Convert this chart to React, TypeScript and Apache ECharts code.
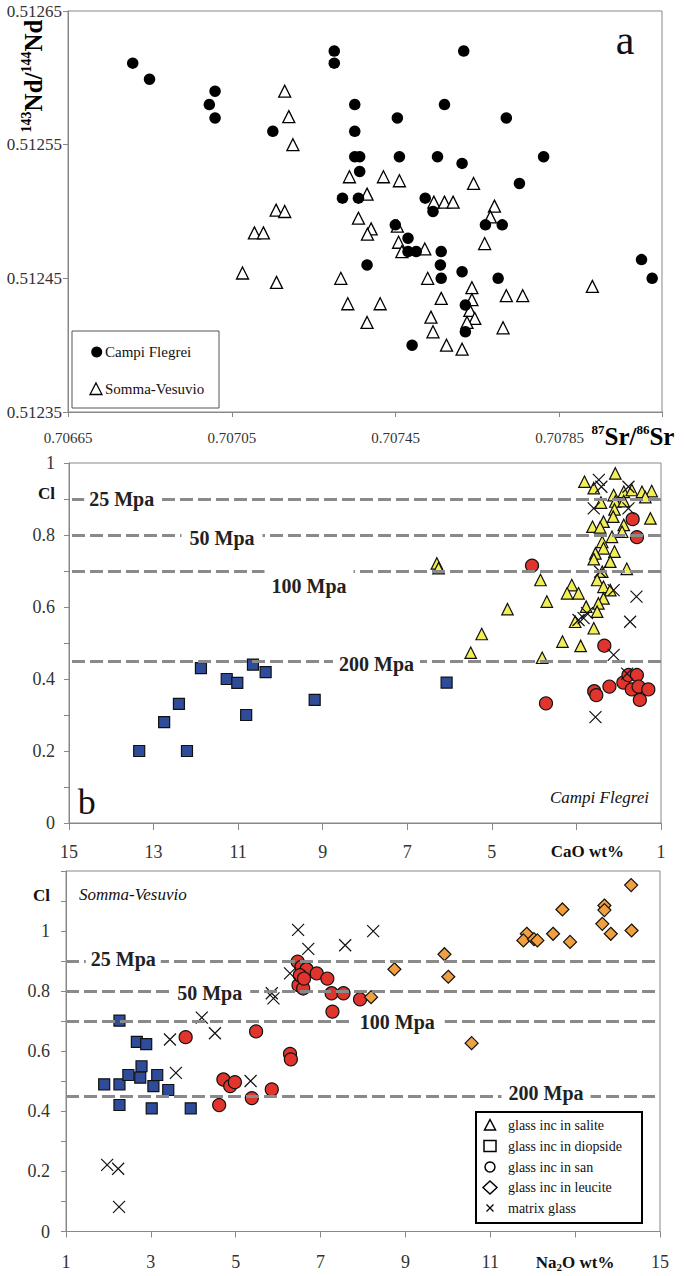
import React, { useEffect, useRef } from "react";
import * as echarts from "echarts";

const FONT = '"Liberation Serif", "Times New Roman", serif';

// ---------- Panel a : 87Sr/86Sr vs 143Nd/144Nd ----------
const srTickLabels = [0.70665, 0.70705, 0.70745, 0.70785];
const ndTickLabels = [0.51235, 0.51245, 0.51255, 0.51265];

const cfSr = [0.706808, 0.706849, 0.707009, 0.706995, 0.707009, 0.70715, 0.7073, 0.7073, 0.707616, 0.70735, 0.707569, 0.707454, 0.70772, 0.70735, 0.70735, 0.707362, 0.707459, 0.707552, 0.707612, 0.707811, 0.707752, 0.707362, 0.70732, 0.707359, 0.707522, 0.707541, 0.707449, 0.707669, 0.70771, 0.70748, 0.70748, 0.7075, 0.707561, 0.70738, 0.707559, 0.707561, 0.707612, 0.7077, 0.70762, 0.70762, 0.70749, 0.70805, 0.708076];
const cfNd = [0.512611, 0.512599, 0.51259, 0.51258, 0.51257, 0.51256, 0.51262, 0.512611, 0.51262, 0.51258, 0.51258, 0.51257, 0.51257, 0.51256, 0.512541, 0.512541, 0.512541, 0.512541, 0.512536, 0.512541, 0.512521, 0.51253, 0.51251, 0.51251, 0.51251, 0.5125, 0.51249, 0.51249, 0.51249, 0.51248, 0.51247, 0.51247, 0.51247, 0.51246, 0.51246, 0.51245, 0.512455, 0.51245, 0.51243, 0.51241, 0.5124, 0.512464, 0.51245];

const svSr = [0.707179, 0.707189, 0.707199, 0.707337, 0.70742, 0.707459, 0.70764, 0.70738, 0.707543, 0.707569, 0.70759, 0.707691, 0.707681, 0.707359, 0.70739, 0.707381, 0.707454, 0.707457, 0.707465, 0.707521, 0.707667, 0.707158, 0.707179, 0.707105, 0.707127, 0.707076, 0.707159, 0.707316, 0.707333, 0.707528, 0.707412, 0.70738, 0.707561, 0.707636, 0.707636, 0.707631, 0.707643, 0.707624, 0.707536, 0.707541, 0.707574, 0.707612, 0.707712, 0.70772, 0.70776, 0.70793];
const svNd = [0.51259, 0.512571, 0.51255, 0.512526, 0.512526, 0.512523, 0.512521, 0.512513, 0.512507, 0.512507, 0.512507, 0.512504, 0.512496, 0.512495, 0.512487, 0.512483, 0.512489, 0.512477, 0.51247, 0.512472, 0.512476, 0.512501, 0.5125, 0.512484, 0.512484, 0.512454, 0.512447, 0.51245, 0.512431, 0.51245, 0.512431, 0.512417, 0.512435, 0.512443, 0.512434, 0.512426, 0.51242, 0.512417, 0.512421, 0.51241, 0.5124, 0.512397, 0.512413, 0.512437, 0.512437, 0.512444];

// ---------- Panel b : Campi Flegrei, CaO wt% vs Cl ----------
const mpaLevels = [0.9, 0.8, 0.7, 0.45];
const mpaNames = ["25 Mpa", "50 Mpa", "100 Mpa", "200 Mpa"];

const cfSalite: [number, number][] = [
  [2.81, 0.948], [2.59, 0.93], [2.08, 0.971], [2.12, 0.911], [1.88, 0.92], [1.69, 0.925], [1.45, 0.92], [1.22, 0.922],
  [1.37, 0.905], [2.42, 0.89], [2.08, 0.893], [1.88, 0.894], [2.1, 0.871], [2.13, 0.851], [1.25, 0.846], [2.36, 0.837],
  [2.62, 0.823], [2.44, 0.821], [1.88, 0.828], [2.16, 0.795], [1.92, 0.809], [2.39, 0.781], [2.36, 0.763], [2.55, 0.749],
  [2.1, 0.754], [2.59, 0.733], [2.2, 0.726], [1.81, 0.706], [6.3, 0.721], [6.26, 0.708], [3.85, 0.675], [2.39, 0.698],
  [2.51, 0.675], [3.11, 0.661], [3.22, 0.638], [2.95, 0.638], [2.36, 0.656], [2.2, 0.647], [2.36, 0.624], [3.7, 0.615],
  [2.77, 0.601], [2.48, 0.61], [2.51, 0.587], [4.63, 0.594], [3.03, 0.559], [2.59, 0.541], [5.24, 0.525], [3.33, 0.504],
  [2.9, 0.492], [5.5, 0.473], [3.81, 0.459]
];
const cfDiopside: [number, number][] = [
  [13.34, 0.2], [12.75, 0.28], [12.4, 0.331], [12.21, 0.2], [11.88, 0.43], [11.27, 0.4], [11.02, 0.389], [10.81, 0.3],
  [10.65, 0.44], [10.35, 0.419], [9.19, 0.342], [6.07, 0.39]
];
const cfSanidine: [number, number][] = [
  [4.05, 0.715], [1.67, 0.844], [1.57, 0.794], [2.34, 0.4925], [3.72, 0.3325], [2.58, 0.366], [2.53, 0.355],
  [2.22, 0.379], [1.89, 0.39], [1.77, 0.411], [1.57, 0.411], [1.69, 0.371], [1.53, 0.379], [1.3, 0.371], [1.5, 0.342]
];
const cfMatrix: [number, number][] = [
  [2.47, 0.953], [2.41, 0.934], [2.59, 0.874], [1.77, 0.934], [1.77, 0.874], [1.58, 0.629], [1.73, 0.559], [2.12, 0.647],
  [2.44, 0.698], [2.95, 0.564], [2.83, 0.569], [2.75, 0.583], [2.12, 0.467], [2.55, 0.294], [1.8, 0.415]
];

// ---------- Panel c : Somma-Vesuvio, Na2O wt% vs Cl ----------
const svDiopside: [number, number][] = [
  [2.26, 0.702], [2.67, 0.631], [2.89, 0.624], [1.9, 0.49], [2.26, 0.49], [2.47, 0.521], [2.78, 0.55], [2.75, 0.512],
  [3.15, 0.521], [3.06, 0.484], [3.41, 0.471], [2.26, 0.421], [3.02, 0.41], [3.94, 0.41]
];
const svSanidine: [number, number][] = [
  [3.82, 0.647], [5.48, 0.666], [6.28, 0.591], [6.3, 0.573], [4.71, 0.506], [4.87, 0.484], [4.98, 0.497], [4.61, 0.421],
  [5.38, 0.444], [5.85, 0.473], [6.46, 0.898], [6.55, 0.881], [6.67, 0.873], [6.48, 0.82], [6.59, 0.809], [6.51, 0.853],
  [6.61, 0.842], [6.91, 0.859], [7.16, 0.842], [7.26, 0.793], [7.54, 0.793], [7.28, 0.732], [7.93, 0.773]
];
const svMatrix: [number, number][] = [
  [6.47, 1.004], [6.71, 0.941], [7.58, 0.953], [8.24, 1.0], [6.28, 0.859], [5.85, 0.793], [5.89, 0.776], [4.2, 0.712],
  [4.51, 0.66], [3.45, 0.639], [3.59, 0.528], [5.35, 0.501], [1.97, 0.222], [2.23, 0.209], [2.25, 0.082]
];
const svLeucite: [number, number][] = [
  [14.32, 1.153], [13.69, 1.085], [13.69, 1.07], [12.7, 1.072], [14.33, 1.002], [13.64, 1.024], [13.84, 0.991],
  [12.48, 0.991], [12.88, 0.964], [11.86, 0.991], [11.78, 0.969], [12.03, 0.973], [12.11, 0.969], [9.92, 0.923],
  [10.01, 0.848], [8.74, 0.873], [8.19, 0.78], [10.56, 0.627]
];

const legendItems = ["glass inc in salite", "glass inc in diopside", "glass inc in san", "glass inc in leucite", "matrix glass"];

const AXIS_COLOR = "#888";
const LABEL_COLOR = "#333";
const X_PATH = "path://M0 0L10 10M10 0L0 10";

const zip = (a: number[], b: number[]) => a.map((v, i) => [v, b[i]]);

function axisBase(extra: any) {
  return {
    type: "value",
    splitLine: { show: false },
    axisLine: { onZero: false, lineStyle: { color: AXIS_COLOR, width: 1 } },
    axisTick: { length: 5, lineStyle: { color: AXIS_COLOR } },
    ...extra,
  };
}

function txt(text: string, x: number, y: number, font: string, opts: any = {}) {
  return {
    type: "text",
    x,
    y,
    z: 60,
    style: {
      text,
      font,
      fill: "#111",
      align: opts.align || "center",
      textAlign: opts.align || "center",
      verticalAlign: "middle",
      textVerticalAlign: "middle",
      ...(opts.style || {}),
    },
    ...(opts.el || {}),
  };
}

export default function App() {
  const ref = useRef<HTMLDivElement>(null);
  useEffect(() => {
    if (!ref.current) return;
    const chart = echarts.init(ref.current, null, { renderer: "svg" });

    const markLine = {
      silent: true,
      symbol: "none",
      label: { show: false },
      lineStyle: { type: [13, 5], color: "#8a8a8a", width: 3 },
      data: mpaLevels.map((v) => ({ yAxis: v })),
    };

    const symStyle = (fill: string) => ({ color: fill, borderColor: "#111", borderWidth: 1.2, opacity: 1 });
    const xStyle = { color: "none", borderColor: "#111", borderWidth: 1.2, opacity: 1 };

    const mpaB = [
      { x: 121.7, y: 499, pad: [3, 5, 3, 5] },
      { x: 222, y: 538, pad: [7, 8, 3, 8] },
      { x: 309, y: 586, pad: [15, 7, 2, 7] },
      { x: 376.5, y: 663.5, pad: [3, 6, 3, 6] },
    ];
    const mpaC = [
      { x: 123.3, y: 959, pad: [3, 5, 3, 5] },
      { x: 209.7, y: 993, pad: [8, 8, 3, 8] },
      { x: 397.3, y: 1022, pad: [4, 10, 3, 10] },
      { x: 546, y: 1093, pad: [3, 7, 3, 7] },
    ];
    const mpaLabel = (p: any, i: number) =>
      txt(mpaNames[i], p.x, p.y, `bold 20px ${FONT}`, {
        style: { backgroundColor: "#fff", padding: p.pad, fill: "#222" },
      });

    const legY = [1125, 1146, 1167, 1187.5, 1208];

    const graphic: any[] = [
      // panel a legend
      { type: "rect", z: 50, shape: { x: 72, y: 331, width: 147, height: 77 }, style: { fill: "#fff", stroke: "#555", lineWidth: 1 } },
      { type: "circle", z: 51, shape: { cx: 96.7, cy: 352, r: 5.5 }, style: { fill: "#000" } },
      txt("Campi Flegrei", 105, 352, `15px ${FONT}`, { align: "left" }),
      { type: "polygon", z: 51, shape: { points: [[96, 383], [102, 394.5], [90, 394.5]] }, style: { fill: "#fff", stroke: "#000", lineWidth: 1.3 } },
      txt("Somma-Vesuvio", 105, 389, `15px ${FONT}`, { align: "left" }),
      txt("a", 625, 40, `42px ${FONT}`),
      // panel a axis titles
      {
        type: "text",
        x: 33,
        y: 76,
        rotation: Math.PI / 2,
        z: 60,
        style: {
          text: "{s|143}{m|Nd/}{s|144}{m|Nd}",
          rich: {
            s: { fontFamily: FONT, fontWeight: "bold", fontSize: 14, lineHeight: 15, verticalAlign: "top" },
            m: { fontFamily: FONT, fontWeight: "bold", fontSize: 25, lineHeight: 27 },
          },
          fill: "#000",
          align: "center",
          verticalAlign: "middle",
        },
      },
      {
        type: "text",
        x: 633,
        y: 436,
        z: 60,
        style: {
          text: "{s|87}{m|Sr/}{s|86}{m|Sr}",
          rich: {
            s: { fontFamily: FONT, fontWeight: "bold", fontSize: 13, lineHeight: 14, verticalAlign: "top" },
            m: { fontFamily: FONT, fontWeight: "bold", fontSize: 25, lineHeight: 26 },
          },
          fill: "#000",
          align: "center",
          verticalAlign: "middle",
        },
      },
      // panel b
      txt("b", 86.7, 802, `36px ${FONT}`),
      txt("Campi Flegrei", 649, 797, `italic 17px ${FONT}`, { align: "right" }),
      ...mpaB.map(mpaLabel),
      // panel c
      txt("Somma-Vesuvio", 79, 894, `italic 17px ${FONT}`, { align: "left" }),
      ...mpaC.map(mpaLabel),
      { type: "rect", z: 50, shape: { x: 476, y: 1112, width: 166, height: 111 }, style: { fill: "#fff", stroke: "#000", lineWidth: 2 } },
      { type: "polygon", z: 51, shape: { points: [[490, 1119.5], [495.5, 1130], [484.5, 1130]] }, style: { fill: "#fff", stroke: "#000", lineWidth: 1.5 } },
      { type: "rect", z: 51, shape: { x: 484, y: 1140.5, width: 12, height: 11 }, style: { fill: "#fff", stroke: "#000", lineWidth: 1.5 } },
      { type: "circle", z: 51, shape: { cx: 490, cy: 1167, r: 5 }, style: { fill: "#fff", stroke: "#000", lineWidth: 1.5 } },
      { type: "polygon", z: 51, shape: { points: [[490, 1181], [497, 1187.5], [490, 1194], [483, 1187.5]] }, style: { fill: "#fff", stroke: "#000", lineWidth: 1.5 } },
      { type: "line", z: 51, shape: { x1: 486.5, y1: 1204.5, x2: 493.5, y2: 1211.5 }, style: { stroke: "#000", lineWidth: 1.3 } },
      { type: "line", z: 51, shape: { x1: 493.5, y1: 1204.5, x2: 486.5, y2: 1211.5 }, style: { stroke: "#000", lineWidth: 1.3 } },
      ...legendItems.map((t, i) => txt(t, 508, legY[i], `14px ${FONT}`, { align: "left" })),
    ];

    const labelFont = { fontFamily: FONT, color: LABEL_COLOR };

    const option: any = {
      animation: false,
      backgroundColor: "#fff",
      grid: [
        { left: 68, top: 11, width: 594, height: 401, show: true, borderColor: AXIS_COLOR, borderWidth: 1 },
        { left: 69, top: 463, width: 592, height: 360, show: true, borderColor: AXIS_COLOR, borderWidth: 1 },
        { left: 66, top: 871, width: 594, height: 360.5, show: true, borderColor: AXIS_COLOR, borderWidth: 1 },
      ],
      xAxis: [
        axisBase({
          gridIndex: 0,
          min: 0.70665,
          max: 0.7081,
          interval: 0.0004,
          axisLabel: {
            ...labelFont,
            fontSize: 15,
            margin: 18,
            formatter: (v: number) => (srTickLabels.some((t) => Math.abs(t - v) < 1e-9) ? v.toFixed(5) : ""),
          },
        }),
        axisBase({
          gridIndex: 1,
          min: 1,
          max: 15,
          interval: 2,
          inverse: true,
          axisTick: { length: 7, lineStyle: { color: AXIS_COLOR } },
          axisLabel: {
            ...labelFont,
            fontSize: 18,
            margin: 20,
            formatter: (v: number) => (v === 3 ? "{b|CaO wt%}" : String(v)),
            rich: { b: { fontFamily: FONT, fontWeight: "bold", fontSize: 17, color: "#111", padding: [0, 0, 0, 22] } },
          },
        }),
        axisBase({
          gridIndex: 2,
          min: 1,
          max: 15,
          interval: 2,
          axisTick: { length: 6, lineStyle: { color: AXIS_COLOR } },
          axisLabel: {
            ...labelFont,
            fontSize: 18,
            margin: 21,
            formatter: (v: number) => (v === 13 ? "{b|Na}{s|2}{b|O wt%}" : String(v)),
            rich: {
              b: { fontFamily: FONT, fontWeight: "bold", fontSize: 17, color: "#111", lineHeight: 20 },
              s: { fontFamily: FONT, fontWeight: "bold", fontSize: 11, color: "#111", lineHeight: 12, verticalAlign: "bottom" },
            },
          },
        }),
      ],
      yAxis: [
        axisBase({
          gridIndex: 0,
          min: 0.51235,
          max: 0.51265,
          interval: 0.0001,
          axisLabel: {
            ...labelFont,
            fontSize: 17,
            margin: 6,
            formatter: (v: number) => (ndTickLabels.some((t) => Math.abs(t - v) < 1e-9) ? v.toFixed(5) : ""),
          },
        }),
        axisBase({
          gridIndex: 1,
          min: 0,
          max: 1,
          interval: 0.1,
          axisLabel: {
            ...labelFont,
            fontSize: 18,
            margin: 14,
            formatter: (v: number) => {
              const r = Math.round(v * 10);
              if (r === 9) return "{cl|Cl}";
              return r % 2 === 0 ? String(r / 10) : "";
            },
            rich: { cl: { fontFamily: FONT, fontWeight: "bold", fontSize: 17, color: "#111", padding: [0, 0, 12, 0] } },
          },
        }),
        axisBase({
          gridIndex: 2,
          min: 0,
          max: 1.2,
          interval: 0.1,
          axisLabel: {
            ...labelFont,
            fontSize: 18,
            margin: 16,
            formatter: (v: number) => {
              const r = Math.round(v * 10);
              if (r === 11) return "{cl|Cl}";
              return r % 2 === 0 && r <= 10 ? String(r / 10) : "";
            },
            rich: { cl: { fontFamily: FONT, fontWeight: "bold", fontSize: 17, color: "#111", padding: [0, 0, 12, 0] } },
          },
        }),
      ],
      series: [
        // panel a
        { type: "scatter", xAxisIndex: 0, yAxisIndex: 0, data: zip(svSr, svNd), symbol: "triangle", symbolSize: 12, itemStyle: { color: "#fff", borderColor: "#000", borderWidth: 1.3, opacity: 1 } },
        { type: "scatter", xAxisIndex: 0, yAxisIndex: 0, data: zip(cfSr, cfNd), symbol: "circle", symbolSize: 11.5, itemStyle: { color: "#000", opacity: 1 } },
        // panel b
        { type: "scatter", xAxisIndex: 1, yAxisIndex: 1, data: [], markLine },
        { type: "scatter", xAxisIndex: 1, yAxisIndex: 1, data: cfSalite, symbol: "triangle", symbolSize: 11.5, itemStyle: symStyle("#F2EE55") },
        { type: "scatter", xAxisIndex: 1, yAxisIndex: 1, data: cfDiopside, symbol: "rect", symbolSize: 11, itemStyle: symStyle("#2F4C9B") },
        { type: "scatter", xAxisIndex: 1, yAxisIndex: 1, data: cfSanidine, symbol: "circle", symbolSize: 13, itemStyle: symStyle("#E0342C") },
        { type: "scatter", xAxisIndex: 1, yAxisIndex: 1, data: cfMatrix, symbol: X_PATH, symbolSize: 12, itemStyle: xStyle },
        // panel c
        { type: "scatter", xAxisIndex: 2, yAxisIndex: 2, data: [], markLine },
        { type: "scatter", xAxisIndex: 2, yAxisIndex: 2, data: svDiopside, symbol: "rect", symbolSize: 11, itemStyle: symStyle("#2F4C9B") },
        { type: "scatter", xAxisIndex: 2, yAxisIndex: 2, data: svSanidine, symbol: "circle", symbolSize: 13, itemStyle: symStyle("#E0342C") },
        { type: "scatter", xAxisIndex: 2, yAxisIndex: 2, data: svLeucite, symbol: "diamond", symbolSize: 13, itemStyle: symStyle("#F0A040") },
        { type: "scatter", xAxisIndex: 2, yAxisIndex: 2, data: svMatrix, symbol: X_PATH, symbolSize: 12, itemStyle: xStyle },
      ],
      graphic,
    };

    chart.setOption(option);
    return () => chart.dispose();
  }, []);

  return <div ref={ref} style={{ position: "absolute", left: 0, top: 0, width: 685, height: 1276 }} />;
}
